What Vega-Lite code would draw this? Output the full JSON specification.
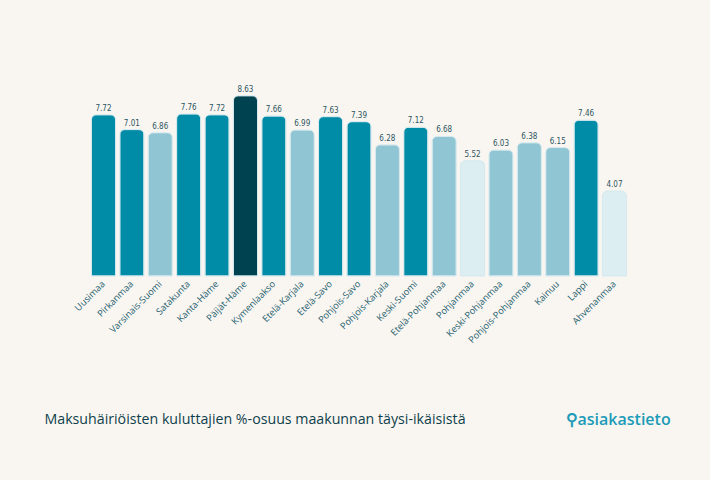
{
  "$schema": "https://vega.github.io/schema/vega-lite/v6.json",
  "autosize": "none",
  "width": 538,
  "height": 188,
  "padding": {"left": 90, "top": 88, "right": 82, "bottom": 204},
  "background": "#f9f6f2",
  "config": {"view": {"stroke": null}},
  "data": {"values": [
    {"region": "Uusimaa", "value": 7.72, "level": "b"},
    {"region": "Pirkanmaa", "value": 7.01, "level": "b"},
    {"region": "Varsinais-Suomi", "value": 6.86, "level": "c"},
    {"region": "Satakunta", "value": 7.76, "level": "b"},
    {"region": "Kanta-Häme", "value": 7.72, "level": "b"},
    {"region": "Päijät-Häme", "value": 8.63, "level": "a"},
    {"region": "Kymenlaakso", "value": 7.66, "level": "b"},
    {"region": "Etelä-Karjala", "value": 6.99, "level": "c"},
    {"region": "Etelä-Savo", "value": 7.63, "level": "b"},
    {"region": "Pohjois-Savo", "value": 7.39, "level": "b"},
    {"region": "Pohjois-Karjala", "value": 6.28, "level": "c"},
    {"region": "Keski-Suomi", "value": 7.12, "level": "b"},
    {"region": "Etelä-Pohjanmaa", "value": 6.68, "level": "c"},
    {"region": "Pohjanmaa", "value": 5.52, "level": "d"},
    {"region": "Keski-Pohjanmaa", "value": 6.03, "level": "c"},
    {"region": "Pohjois-Pohjanmaa", "value": 6.38, "level": "c"},
    {"region": "Kainuu", "value": 6.15, "level": "c"},
    {"region": "Lappi", "value": 7.46, "level": "b"},
    {"region": "Ahvenanmaa", "value": 4.07, "level": "d"}
  ]},
  "encoding": {
    "x": {
      "field": "region", "type": "nominal", "sort": null,
      "scale": {"paddingInner": 0.15, "paddingOuter": 0.05},
      "axis": {
        "title": "Maksuhäiriöisten kuluttajien %-osuus maakunnan täysi-ikäisistä",
        "titleFont": "Open Sans", "titleFontSize": 14.2, "titleFontWeight": 500, "titleColor": "#0f3f4b",
        "titleAnchor": "start", "titleAlign": "left", "titleBaseline": "middle", "titleX": -46, "titleY": 143,
        "labelAngle": -45, "labelAlign": "right", "labelBaseline": "middle",
        "labelFont": "Open Sans", "labelFontSize": 9.3, "labelColor": "#24606e", "labelPadding": 6,
        "domain": false, "ticks": false, "grid": false
      }
    },
    "y": {
      "field": "value", "type": "quantitative",
      "scale": {"domain": [0, 9], "nice": false},
      "axis": {
        "title": "⚲asiakastieto", "titleFont": "Open Sans", "titleFontSize": 16, "titleFontWeight": 600, "titleColor": "#1d9bb7",
        "titleAngle": 0, "titleAlign": "left", "titleBaseline": "middle", "titleX": 475, "titleY": 331,
        "labels": false, "ticks": false, "domain": false, "grid": false
      }
    }
  },
  "layer": [
    {
      "mark": {"type": "bar", "cornerRadiusTopLeft": 5, "cornerRadiusTopRight": 5, "stroke": "#d6e9ee", "strokeWidth": 1},
      "encoding": {
        "color": {
          "field": "level", "type": "nominal", "legend": null,
          "scale": {"domain": ["a", "b", "c", "d"], "range": ["#00424f", "#008ba7", "#90c6d3", "#ddeef2"]}
        }
      }
    },
    {
      "mark": {"type": "text", "dy": -6, "font": "DejaVu Sans Condensed", "fontSize": 8, "color": "#2d5560"},
      "encoding": {"text": {"field": "value", "type": "quantitative", "format": ".2f"}}
    }
  ]
}
